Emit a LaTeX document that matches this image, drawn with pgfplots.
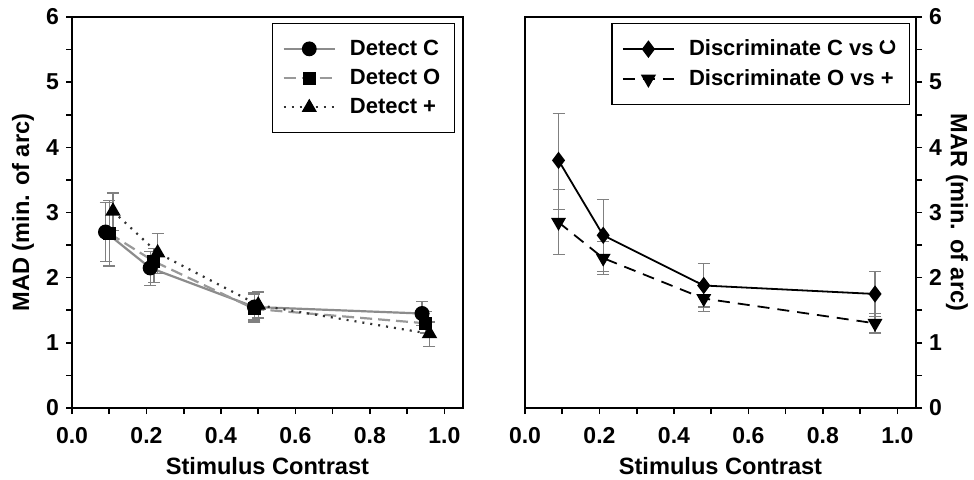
\documentclass[border=0pt]{standalone}
\usepackage{fontspec}
\setmainfont{Liberation Sans}
\usepackage{pgfplots}
\pgfplotsset{compat=1.18}
\pgfplotsset{
  panel/.style={
    scale only axis, width=195.5pt, height=195.5pt,
    xmin=0, xmax=1.05, ymin=0, ymax=6,
    xtick={0,0.2,...,1.0}, ytick={0,1,...,6},
    minor x tick num=1, minor y tick num=1,
    tick align=outside, xtick pos=bottom,
    major tick length=3pt, minor tick length=3pt,
    every tick/.style={black, line width=0.8pt},
    axis line style={line width=1pt},
    xticklabel shift=3pt,
    xticklabel style={/pgf/number format/.cd, fixed, fixed zerofill, precision=1},
    /pgf/number format/assume math mode=true,
    tick label style={font=\bfseries\fontsize{11.5}{13}\selectfont},
    label style={font=\bfseries\fontsize{11.8}{13}\selectfont},
    xlabel={Stimulus Contrast},
    legend style={font=\bfseries\fontsize{11}{13.5}\selectfont, draw=black, line width=0.8pt,
      inner xsep=5pt, inner ysep=6pt, row sep=1.5pt, cells={anchor=west},
      /tikz/every odd column/.append style={column sep=5pt}},
    legend cell align=left,
    legend image code/.code={%
      \draw[mark repeat=2, mark phase=2] plot coordinates {(0cm,0cm) (0.45cm,0cm) (0.9cm,0cm)};},
    legend image post style={line width=1pt},
  },
  eb/.style={
    error bars/y dir=both, error bars/y explicit,
    error bars/error bar style={gray, line width=0.6pt, solid},
    error bars/error mark options={rotate=90, mark size=3pt, gray, solid, line width=0.6pt}},
}
\begin{document}
\begin{tikzpicture}
\path[use as bounding box] (0,0) rectangle (487pt,239.5pt);

\begin{axis}[panel, at={(36pt,35.5pt)}, anchor=south west,
  ytick pos=left,
  ylabel={MAD (min. of arc)},
  ylabel style={at={(rel axis cs:-0.125,0.5)}, anchor=center, rotate=0},
  legend style={at={(0.98,0.985)}, anchor=north east}]
\addplot[gray!90, line width=1.1pt, mark=*, mark size=3.2pt, mark options={black, solid}, eb]
table[x=x, y=y, y error plus=ep, y error minus=em] {
x y ep em
0.09 2.70 0.45 0.45
0.21 2.15 0.25 0.27
0.49 1.55 0.20 0.20
0.94 1.45 0.18 0.18
};
\addplot[gray!80, line width=1.1pt, dash pattern=on 6pt off 3pt, mark=square*, mark size=2.7pt, mark options={black, solid}, eb]
table[x=x, y=y, y error plus=ep, y error minus=em] {
x y ep em
0.10 2.68 0.50 0.50
0.22 2.25 0.20 0.32
0.49 1.52 0.25 0.20
0.95 1.30 0.18 0.15
};
\addplot[black!80, line width=1.1pt, dash pattern=on 1pt off 3pt, mark=triangle*, mark size=3.4pt, mark options={black, solid}, eb]
table[x=x, y=y, y error plus=ep, y error minus=em] {
x y ep em
0.11 3.02 0.28 0.30
0.23 2.38 0.30 0.32
0.50 1.58 0.20 0.20
0.96 1.14 0.18 0.20
};
\legend{Detect C, Detect O, Detect +}
\end{axis}

\begin{axis}[panel, at={(262.5pt,35.5pt)}, anchor=south west,
  ytick pos=right, yticklabel pos=right,
  ylabel={MAR (min. of arc)},
  ylabel style={at={(rel axis cs:1.105,0.5)}, anchor=center, rotate=180},
  legend style={at={(0.985,0.985)}, anchor=north east}]
\addplot[black, line width=0.9pt, mark=diamond*, mark size=3.6pt, mark options={black, solid}, eb]
table[x=x, y=y, y error plus=ep, y error minus=em] {
x y ep em
0.09 3.80 0.72 0.75
0.21 2.65 0.55 0.55
0.48 1.88 0.34 0.33
0.94 1.75 0.35 0.35
};
\addplot[black, line width=0.9pt, dash pattern=on 6pt off 4pt, mark=triangle*, mark size=3.4pt, mark options={black, solid, rotate=180}, eb]
table[x=x, y=y, y error plus=ep, y error minus=em] {
x y ep em
0.09 2.85 0.50 0.50
0.21 2.30 0.25 0.25
0.48 1.68 0.20 0.20
0.94 1.30 0.15 0.15
};
\legend{Discriminate C vs \protect\rotatebox[origin=c]{90}{C}, Discriminate O vs +}
\end{axis}
\end{tikzpicture}
\end{document}
